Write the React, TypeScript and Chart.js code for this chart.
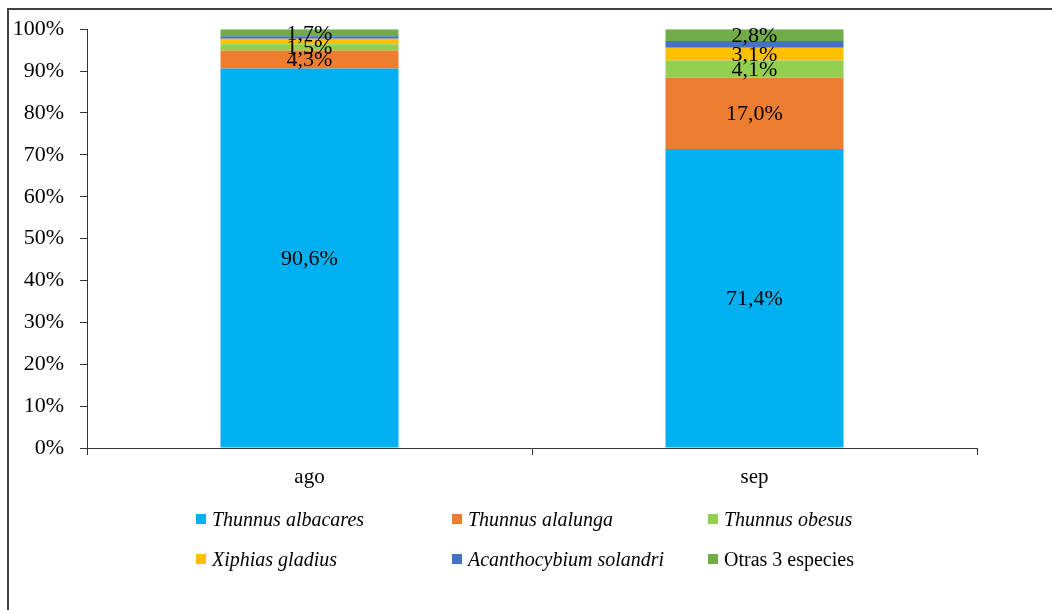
import React, { useEffect, useRef } from "react";
import { Chart, registerables } from "chart.js";

Chart.register(...registerables);

const months = ["ago", "sep"];
const seriesNames = [
  "Thunnus albacares",
  "Thunnus alalunga",
  "Thunnus obesus",
  "Xiphias gladius",
  "Acanthocybium solandri",
  "Otras 3 especies",
];
const italicNames = [true, true, true, true, true, false];
const seriesColors = ["#00B0F0", "#ED7D31", "#92D050", "#FFC000", "#4472C4", "#70AD47"];

// share (%) of each species per month
const albacares = [90.6, 71.4];
const alalunga = [4.3, 17.0];
const obesus = [1.5, 4.1];
const gladius = [1.3, 3.1];
const solandri = [0.6, 1.6];
const otras = [1.7, 2.8];
const seriesValues = [albacares, alalunga, obesus, gladius, solandri, otras];

// which segments carry a value label, per month
const labeledAgo = [true, true, true, false, false, true];
const labeledSep = [true, true, true, true, false, true];
const labeled = [labeledAgo, labeledSep];

const yTicks = [0, 10, 20, 30, 40, 50, 60, 70, 80, 90, 100];

const FONT = "'Liberation Serif', 'DejaVu Serif', serif";

const fmt = (v: number) => v.toFixed(1).replace(".", ",") + "%";

const valueLabels = {
  id: "valueLabels",
  afterDatasetsDraw(chart: any) {
    const ctx = chart.ctx;
    ctx.save();
    ctx.fillStyle = "#000";
    ctx.font = `22px ${FONT}`;
    ctx.textAlign = "center";
    ctx.textBaseline = "middle";
    chart.data.datasets.forEach((ds: any, di: number) => {
      const meta = chart.getDatasetMeta(di);
      meta.data.forEach((bar: any, i: number) => {
        if (!labeled[i][di]) return;
        const cy = (bar.y + bar.base) / 2 + 1;
        ctx.fillText(fmt(ds.data[i]), bar.x, cy);
      });
    });
    ctx.restore();
  },
};

export default function App() {
  const ref = useRef<HTMLCanvasElement>(null);

  useEffect(() => {
    const chart = new Chart(ref.current!, {
      type: "bar",
      data: {
        labels: months,
        datasets: seriesNames.map((name, i) => ({
          label: name,
          data: seriesValues[i],
          backgroundColor: seriesColors[i],
          borderWidth: 0,
          barPercentage: 0.4,
          categoryPercentage: 1,
        })),
      },
      options: {
        animation: false,
        responsive: false,
        maintainAspectRatio: false,
        layout: { padding: { top: 28, right: 75, left: 0, bottom: 0 } },
        plugins: {
          legend: { display: false },
          tooltip: { enabled: false },
        },
        scales: {
          x: {
            stacked: true,
            afterFit: (s: any) => {
              s.height = 52;
            },
            grid: {
              offset: true,
              drawOnChartArea: false,
              drawTicks: true,
              tickLength: 7,
              color: "#333",
            },
            border: { color: "#333", width: 1 },
            ticks: {
              color: "#000",
              padding: 10,
              font: { family: FONT, size: 21 },
            },
          },
          y: {
            stacked: true,
            min: 0,
            max: 100,
            afterFit: (s: any) => {
              s.width = 87;
            },
            afterBuildTicks: (s: any) => {
              s.ticks = yTicks.map((v) => ({ value: v }));
            },
            grid: {
              drawOnChartArea: false,
              drawTicks: true,
              tickLength: 7,
              color: "#333",
            },
            border: { color: "#333", width: 1 },
            ticks: {
              color: "#000",
              padding: 16,
              font: { family: FONT, size: 22 },
              callback: (v: any) => v + "%",
            },
          },
        },
      },
      plugins: [valueLabels],
    });
    return () => chart.destroy();
  }, []);

  const legendCols = [196, 452, 708];
  const legendRows = [519, 559];

  return (
    <div>
      <div
        style={{
          position: "fixed",
          left: 7,
          top: 8,
          width: 1200,
          height: 800,
          border: "2px solid #404040",
          boxSizing: "border-box",
        }}
      />
      <canvas
        ref={ref}
        width={1052}
        height={500}
        style={{ position: "fixed", left: 0, top: 0, width: 1052, height: 500 }}
      />
      {seriesNames.map((name, i) => {
        const col = legendCols[i % 3];
        const row = legendRows[Math.floor(i / 3)];
        return (
          <div
            key={name}
            style={{
              position: "fixed",
              left: col,
              top: row - 12,
              height: 24,
              display: "flex",
              alignItems: "center",
              whiteSpace: "nowrap",
              fontFamily: FONT,
              fontSize: 20,
              fontStyle: italicNames[i] ? "italic" : "normal",
              color: "#000",
            }}
          >
            <span
              style={{
                display: "inline-block",
                width: 10,
                height: 10,
                background: seriesColors[i],
                marginRight: 6,
              }}
            />
            {name}
          </div>
        );
      })}
    </div>
  );
}
